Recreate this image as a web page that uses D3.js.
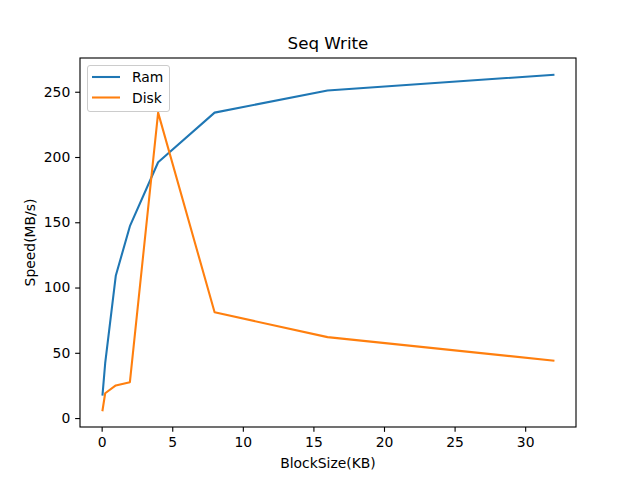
<!DOCTYPE html>
<html><head><meta charset="utf-8">
<script src="https://cdn.jsdelivr.net/npm/d3@7"></script>
<style>body{margin:0;background:#fff}text{font-family:"DejaVu Sans",sans-serif}</style>
</head><body><svg id="c" width="640" height="480"></svg>
<script>
const blockSizes = [0.0625, 0.25, 1, 2, 4, 8, 16, 32];
const ramSpeed  = [18, 42, 109, 147, 196, 234, 251, 263];
const diskSpeed = [6, 19, 25, 27.5, 234, 81, 62, 44];
const xTicks = [0, 5, 10, 15, 20, 25, 30];
const yTicks = [0, 50, 100, 150, 200, 250];
const seriesNames = ["Ram", "Disk"];
const colors = ["#1f77b4", "#ff7f0e"];

const svg = d3.select("#c");
const L = 80, R = 576, T = 58, B = 427;
const x = d3.scaleLinear().domain([-1.534, 33.6]).range([L, R]);
const y = d3.scaleLinear().domain([-6.85, 275.85]).range([B, T]);

const xAxis = svg.append("g").attr("transform", `translate(0,${B})`)
  .call(d3.axisBottom(x).tickValues(xTicks).tickSize(4.86).tickPadding(4.86).tickSizeOuter(0));
const yAxis = svg.append("g").attr("transform", `translate(${L},0)`)
  .call(d3.axisLeft(y).tickValues(yTicks).tickSize(4.86).tickPadding(4.86).tickSizeOuter(0));
[xAxis, yAxis].forEach(a => {
  a.select(".domain").remove();
  a.selectAll("text").attr("font-size", "13.9px").attr("fill", "#000").attr("font-family", "DejaVu Sans");
  a.selectAll("line").attr("stroke", "#000").attr("stroke-width", 1.11);
});
svg.append("rect").attr("x", L).attr("y", T).attr("width", R - L).attr("height", B - T)
  .attr("fill", "none").attr("stroke", "#000").attr("stroke-width", 1.11);

const line = d3.line().x(d => x(d[0])).y(d => y(d[1]));
[ramSpeed, diskSpeed].forEach((vals, i) => {
  svg.append("path").datum(blockSizes.map((b, j) => [b, vals[j]]))
    .attr("d", line).attr("fill", "none").attr("stroke", colors[i])
    .attr("stroke-width", 2.08).attr("stroke-linejoin", "round").attr("stroke-linecap", "square");
});

svg.append("text").attr("x", (L + R) / 2).attr("y", 49).attr("text-anchor", "middle")
  .attr("font-size", "16.7px").text("Seq Write");
svg.append("text").attr("x", (L + R) / 2).attr("y", 468).attr("text-anchor", "middle")
  .attr("font-size", "13.9px").text("BlockSize(KB)");
svg.append("text").attr("transform", `translate(35,${(T + B) / 2}) rotate(-90)`).attr("text-anchor", "middle")
  .attr("font-size", "13.9px").text("Speed(MB/s)");

const lg = svg.append("g");
lg.append("rect").attr("x", 87.5).attr("y", 65.5).attr("width", 82).attr("height", 46).attr("rx", 2.5)
  .attr("fill", "#fff").attr("fill-opacity", 0.8).attr("stroke", "#ccc").attr("stroke-width", 1);
seriesNames.forEach((n, i) => {
  const yy = 77 + i * 20.5;
  lg.append("line").attr("x1", 92).attr("x2", 120).attr("y1", yy).attr("y2", yy)
    .attr("stroke", colors[i]).attr("stroke-width", 2.08);
  lg.append("text").attr("x", 132).attr("y", yy + 5).attr("font-size", "13.9px").text(n);
});
</script></body></html>
